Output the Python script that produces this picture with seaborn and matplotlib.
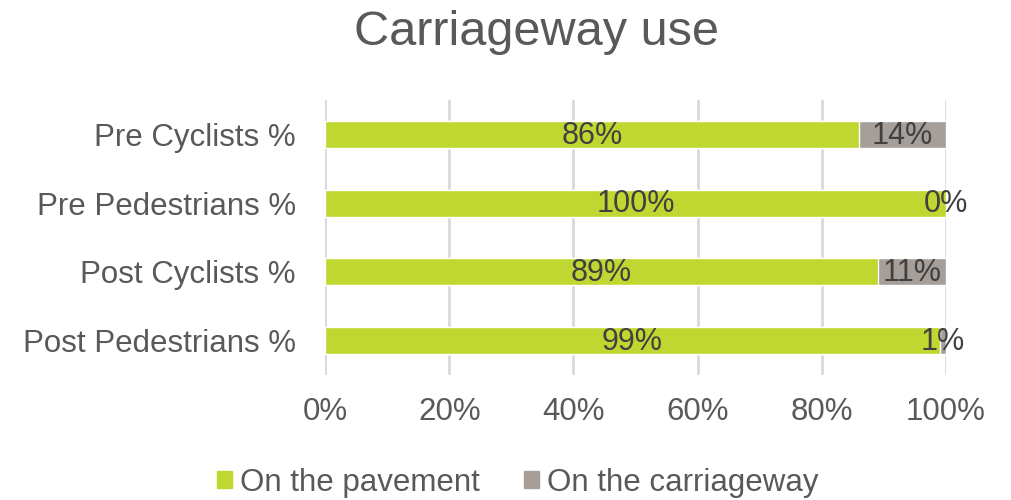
import pandas as pd
import matplotlib.pyplot as plt
import seaborn as sns
from matplotlib.patches import Patch

# Data
categories = ["Pre Cyclists %", "Pre Pedestrians %", "Post Cyclists %", "Post Pedestrians %"]
pavement = [86, 100, 89, 99]
carriageway = [14, 0, 11, 1]

GREEN = "#BFD730"
GREY = "#A59E99"
TEXT = "#595959"


def main():
    df = pd.DataFrame({"Category": categories, "Pavement": pavement, "Carriageway": carriageway})
    df["Total"] = df["Pavement"] + df["Carriageway"]

    sns.set_theme(style="white")
    plt.rcParams["font.family"] = ["Liberation Sans", "DejaVu Sans"]

    fig = plt.figure(figsize=(10.11, 5.0), dpi=100)
    ax = fig.add_axes([0.3215, 0.25, 0.6142, 0.55])

    # Stacked horizontal bars: total in grey, pavement share in green on top
    sns.barplot(data=df, x="Total", y="Category", color=GREY, width=0.39, ax=ax, saturation=1, zorder=2)
    sns.barplot(data=df, x="Pavement", y="Category", color=GREEN, width=0.39, ax=ax, saturation=1, zorder=3)

    # Data labels
    for i, row in df.iterrows():
        ax.text(row["Pavement"] / 2, i + 0.02, f"{row['Pavement']}%", ha="center", va="center",
                fontsize=22, color="#404040", zorder=4)
        ax.text(row["Pavement"] + row["Carriageway"] / 2, i + 0.02, f"{row['Carriageway']}%", ha="center",
                va="center", fontsize=22, color="#404040", zorder=4)

    ax.set_xlim(0, 100)
    ax.set_ylim(3.5, -0.5)
    ax.set_xticks(range(0, 101, 20))
    ax.set_xticklabels([f"{t}%" for t in range(0, 101, 20)])
    ax.xaxis.grid(True, color="#D9D9D9", linewidth=2, zorder=0)
    ax.set_axisbelow(True)
    for s in ax.spines.values():
        s.set_visible(False)
    ax.tick_params(axis="both", length=0, labelsize=22.5, labelcolor=TEXT)
    ax.tick_params(axis="x", pad=16)
    ax.tick_params(axis="y", pad=21)
    ax.set_xlabel("")
    ax.set_ylabel("")

    fig.suptitle("Carriageway use", fontsize=35, color=TEXT, x=0.531, y=0.98)

    handles = [Patch(color=GREEN, label="On the pavement"), Patch(color=GREY, label="On the carriageway")]
    fig.legend(handles=handles, loc="center", bbox_to_anchor=(0.512, 0.035), ncol=2, frameon=False,
               fontsize=22.5, labelcolor=TEXT, handlelength=0.5, handleheight=0.5, handletextpad=0.25,
               columnspacing=1.4)

    fig.savefig("out.png", dpi=100)


if __name__ == "__main__":
    main()
